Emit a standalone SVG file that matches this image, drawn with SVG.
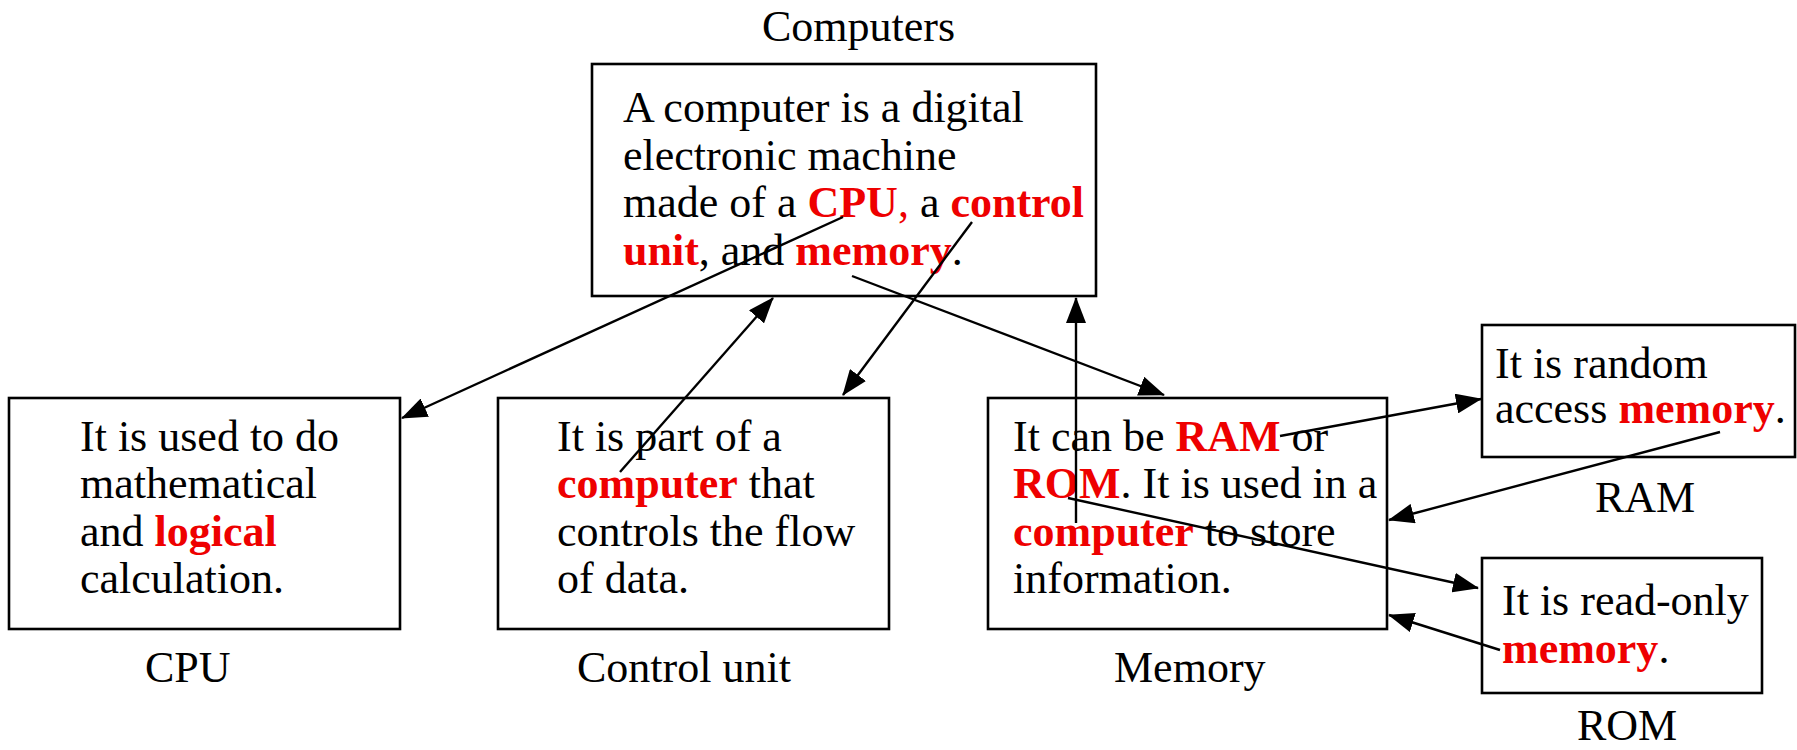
<svg xmlns="http://www.w3.org/2000/svg" width="1797" height="750" viewBox="0 0 1797 750">
<style>
text{font-family:"Liberation Serif","Times New Roman",serif;font-size:44px;fill:#000}
.r{fill:#ee0000;font-weight:bold}
.rn{fill:#ee0000}
.box{fill:#fff;stroke:#000;stroke-width:2.6}
.c{stroke:#000;stroke-width:2.4;fill:none;marker-end:url(#ah)}
</style>
<defs>
<marker id="ah" markerUnits="userSpaceOnUse" markerWidth="26" markerHeight="20" viewBox="0 0 26 20" refX="25" refY="10" orient="auto">
<path d="M0,0 L26,10 L0,20 z" fill="#000"/>
</marker>
</defs>
<g id="computers">
<rect class="box" x="592" y="64" width="504" height="232"/>
<text x="762" y="41">Computers</text>
<text x="623" y="122">A computer is a digital</text>
<text x="623" y="169.5">electronic machine</text>
<text x="623" y="217">made of a <tspan class="r">CPU</tspan><tspan class="rn">,</tspan> a <tspan class="r">control</tspan></text>
<text x="623" y="264.5"><tspan class="r">unit</tspan>, and <tspan class="r">memory</tspan>.</text>
</g>
<g id="cpu">
<rect class="box" x="9" y="398" width="391" height="231"/>
<text x="80" y="451">It is used to do</text>
<text x="80" y="498">mathematical</text>
<text x="80" y="546">and <tspan class="r">logical</tspan></text>
<text x="80" y="593">calculation.</text>
<text x="145" y="682">CPU</text>
</g>
<g id="control">
<rect class="box" x="498" y="398" width="391" height="231"/>
<text x="557" y="451">It is part of a</text>
<text x="557" y="498"><tspan class="r">computer</tspan> that</text>
<text x="557" y="546">controls the flow</text>
<text x="557" y="593">of data.</text>
<text x="577" y="682">Control unit</text>
</g>
<g id="memory">
<rect class="box" x="988" y="398" width="399" height="231"/>
<text x="1013" y="451">It can be <tspan class="r">RAM</tspan> or</text>
<text x="1013" y="498"><tspan class="r">ROM</tspan>. It is used in a</text>
<text x="1013" y="546"><tspan class="r">computer</tspan> to store</text>
<text x="1013" y="593">information.</text>
<text x="1114" y="682">Memory</text>
</g>
<g id="ram">
<rect class="box" x="1482" y="325" width="313" height="132"/>
<text x="1495" y="378">It is random</text>
<text x="1495" y="423">access <tspan class="r">memory</tspan>.</text>
<text x="1595" y="512">RAM</text>
</g>
<g id="rom">
<rect class="box" x="1482" y="558" width="280" height="135"/>
<text x="1502" y="615">It is read-only</text>
<text x="1502" y="663"><tspan class="r">memory</tspan>.</text>
<text x="1577" y="740">ROM</text>
</g>
<g id="connectors">
<line class="c" x1="843" y1="217" x2="402" y2="418"/>
<line class="c" x1="620" y1="472" x2="773" y2="298"/>
<line class="c" x1="972" y1="222" x2="843" y2="395"/>
<line class="c" x1="852" y1="276" x2="1164" y2="395"/>
<line class="c" x1="1076" y1="523" x2="1076" y2="298"/>
<line class="c" x1="1280" y1="436" x2="1481" y2="399"/>
<line class="c" x1="1720" y1="432" x2="1389" y2="520"/>
<line class="c" x1="1068" y1="498" x2="1478" y2="588"/>
<line class="c" x1="1500" y1="650" x2="1389" y2="615"/>
</g>
</svg>
